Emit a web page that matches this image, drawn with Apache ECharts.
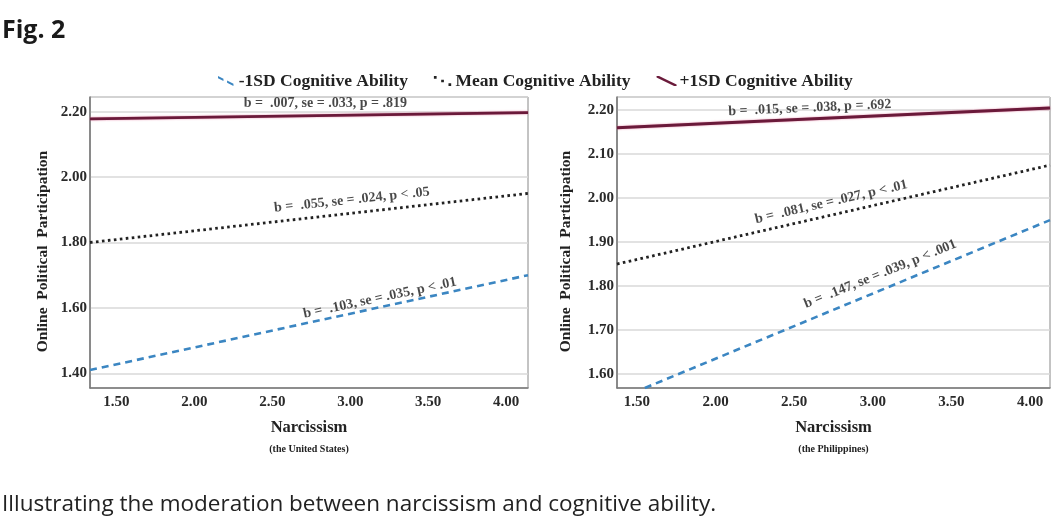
<!DOCTYPE html>
<html>
<head>
<meta charset="utf-8">
<style>html,body{margin:0;padding:0;background:#fff}#main{width:1061px;height:531px}</style>
<script src="https://cdn.jsdelivr.net/npm/echarts@6/dist/echarts.min.js"></script>
</head>
<body>
<div id="main"></div>
<script>
// 图例名称
const seriesNames = ['-1SD Cognitive Ability', 'Mean Cognitive Ability', '+1SD Cognitive Ability'];

// 美国：每条线两端 (x, y)
const usLowX = [1.33, 4.14], usLowY = [1.41, 1.70];
const usMeanX = [1.33, 4.14], usMeanY = [1.80, 1.95];
const usHighX = [1.33, 4.14], usHighY = [2.178, 2.197];

// 菲律宾
const phLowX = [1.55, 4.127], phLowY = [1.568, 1.95];
const phMeanX = [1.373, 4.127], phMeanY = [1.85, 2.075];
const phHighX = [1.373, 4.127], phHighY = [2.16, 2.205];

// 坐标轴范围
const usXRange = [1.33, 4.14], usYRange = [1.355, 2.245];
const phXRange = [1.373, 4.127], phYRange = [1.568, 2.23];

// 斜率标注：x, y, 文本, 旋转角
const usNotes = [
	[2.84, 2.224, 'b =  .007, se = .033, p = .819', 0],
	[3.01, 1.93, 'b =  .055, se = .024, p < .05', 6],
	[3.19, 1.63, 'b =  .103, se = .035, p < .01', 12]
];
const phNotes = [
	[2.60, 2.205, 'b =  .015, se = .038, p = .692', 2.5],
	[2.736, 1.991, 'b =  .081, se = .027, p < .01', 13],
	[3.048, 1.827, 'b =  .147, se = .039, p < .001', 22]
];

const serif = '"Liberation Serif", "Times New Roman", serif';
const colors = ['#3b86c2', '#222222', '#6a1a3a'];
const lineTypes = [[7, 5], [2.6, 3.4], 'solid'];
const lineWidths = [2.6, 2.8, 2.8];

// 图例图标：斜线（虚线/点/实线）
const icons = [
	'path://M0,0L6,3L6,5.5L0,2.5Z M10,5L17,8.5L17,11L10,7.5Z',
	'path://M0,0h2.6v2.6h-2.6Z M7,3.5h2.6v2.6h-2.6Z M14,7h2.6v2.6h-2.6Z',
	'path://M0,0L2.5,0L20,8.5L20,10L17.5,10L0,1.5Z'
];

const zip = (xs, ys) => xs.map((x, i) => [x, ys[i]]);

function lineSeries(idx, xs, ys, axis) {
	return {
		type: 'line',
		name: seriesNames[idx],
		xAxisIndex: axis,
		yAxisIndex: axis,
		data: zip(xs, ys),
		symbol: 'none',
		clip: true,
		color: colors[idx],
		lineStyle: {
			color: colors[idx], width: lineWidths[idx], type: lineTypes[idx],
			shadowColor: idx === 2 ? 'rgba(225,110,150,0.8)' : 'transparent', shadowBlur: idx === 2 ? 2 : 0
		},
		z: 3
	};
}

function noteSeries(notes, axis) {
	return {
		type: 'scatter',
		xAxisIndex: axis,
		yAxisIndex: axis,
		symbolSize: 0,
		silent: true,
		z: 5,
		data: notes.map(n => ({ value: [n[0], n[1]], name: n[2], label: { rotate: n[3] } })),
		label: {
			show: true,
			position: 'inside',
			formatter: p => p.name,
			fontFamily: serif,
			fontWeight: 'bold',
			fontSize: 14,
			color: '#1a1a1a'
		}
	};
}

function xAxisOf(range, grid, sub) {
	return {
		type: 'value', gridIndex: grid, min: range[0], max: range[1],
		minInterval: 0.5, maxInterval: 0.5,
		name: '{a|Narcissism}\n{b|' + sub + '}',
		nameLocation: 'middle', nameGap: 30,
		nameTextStyle: {
			rich: {
				a: { fontFamily: serif, fontWeight: 'bold', fontSize: 16.5, lineHeight: 20, color: '#222' },
				b: { fontFamily: serif, fontWeight: 'bold', fontSize: 10, lineHeight: 22, color: '#222' }
			}
		},
		axisLine: { show: true, lineStyle: { color: '#777', width: 1.5 } },
		axisTick: { show: false },
		splitLine: { show: false },
		axisLabel: {
			fontFamily: serif, fontWeight: 'bold', fontSize: 15, color: '#2a2a2a', margin: 7,
			showMinLabel: false, showMaxLabel: false,
			formatter: v => v.toFixed(2)
		}
	};
}

function yAxisOf(range, grid, step, gap) {
	return {
		type: 'value', gridIndex: grid, min: range[0], max: range[1],
		minInterval: step, maxInterval: step,
		name: 'Online  Political  Participation',
		nameLocation: 'middle', nameGap: gap,
		nameTextStyle: { fontFamily: serif, fontWeight: 'bold', fontSize: 15.5, color: '#222', padding: [0, 18, 0, 0] },
		axisLine: { show: true, lineStyle: { color: '#777', width: 1.5 } },
		axisTick: { show: false },
		splitLine: { show: true, lineStyle: { color: '#d8d8d8', width: 1.5 } },
		axisLabel: {
			fontFamily: serif, fontWeight: 'bold', fontSize: 15, color: '#2a2a2a', margin: 3,
			showMinLabel: false, showMaxLabel: false,
			formatter: v => v.toFixed(2)
		}
	};
}

const chart = echarts.init(document.getElementById('main'));
chart.setOption({
	animation: false,
	backgroundColor: '#fff',
	legend: {
		left: 213, top: 67,
		itemWidth: 20, itemHeight: 10, itemGap: 26,
		data: seriesNames.map((n, i) => ({ name: n, icon: icons[i], itemStyle: { color: colors[i], borderWidth: 0 } })),
		textStyle: { fontFamily: serif, fontWeight: 'bold', fontSize: 17.5, color: '#222', padding: [0, 0, 0, -2] }
	},
	grid: [
		{ left: 90, right: 533, top: 97, bottom: 143, show: true, borderColor: '#888', borderWidth: 1, containLabel: false },
		{ left: 617, right: 11, top: 97, bottom: 143, show: true, borderColor: '#888', borderWidth: 1, containLabel: false }
	],
	xAxis: [xAxisOf(usXRange, 0, '(the United States)'), xAxisOf(phXRange, 1, '(the Philippines)')],
	yAxis: [yAxisOf(usYRange, 0, 0.2, 39), yAxisOf(phYRange, 1, 0.1, 43)],
	graphic: [
		{ type: 'text', left: 2, top: 18, style: { text: 'Fig. 2', font: 'bold 25px "Open Sans", sans-serif', fill: '#1a1a1a' } },
		{ type: 'text', left: 2, top: 493, style: { text: 'Illustrating the moderation between narcissism and cognitive ability.', font: '22.5px "Open Sans", sans-serif', fill: '#222' } }
	],
	series: [
		lineSeries(0, usLowX, usLowY, 0),
		lineSeries(1, usMeanX, usMeanY, 0),
		lineSeries(2, usHighX, usHighY, 0),
		lineSeries(0, phLowX, phLowY, 1),
		lineSeries(1, phMeanX, phMeanY, 1),
		lineSeries(2, phHighX, phHighY, 1),
		noteSeries(usNotes, 0),
		noteSeries(phNotes, 1)
	]
});
</script>
</body>
</html>
